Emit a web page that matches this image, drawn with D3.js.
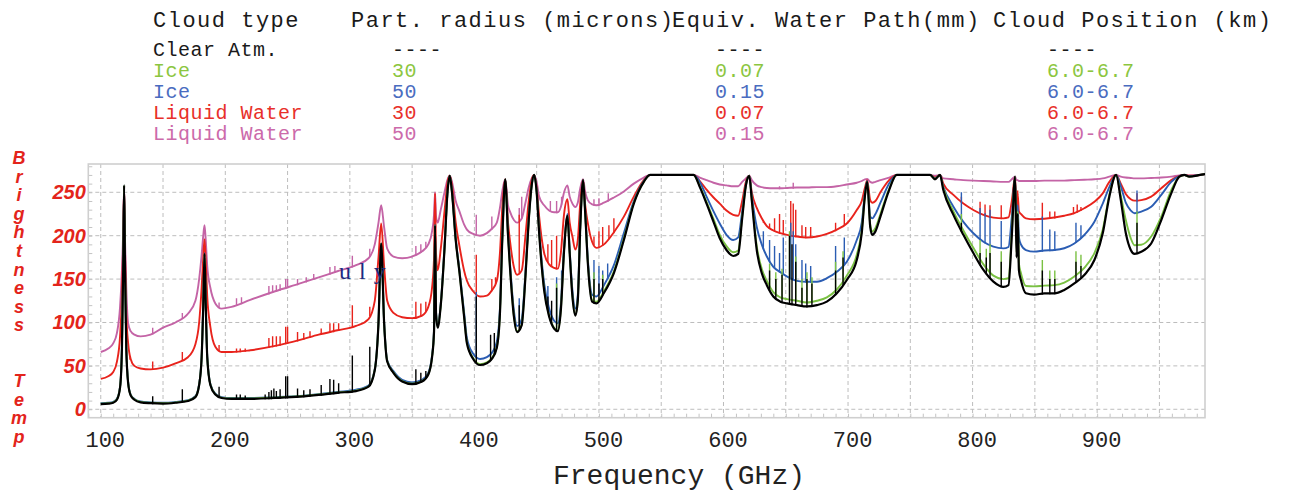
<!DOCTYPE html>
<html><head><meta charset="utf-8">
<script src="https://cdn.jsdelivr.net/npm/d3@7"></script>
<style>html,body{margin:0;background:#fff;}svg{display:block}</style>
</head><body>
<svg id="c" width="1292" height="493"></svg>
<script>
// ---------- DATA ----------
const freqGHz = [
  100,106,110,113,115.5,117,118,118.75,119.5,120.5,122,124,127,132,
  140,150,160,170,176,179,181,182.3,183.31,184.3,185.5,188,192,197,
  205,220,240,260,275,290,305,315,320,323,325.15,327.5,
  330,335,342,350,358,363,366,367.6,368.4,369.2,370.5,
  373,376,378.5,380.2,382,385,388,391.7,394,399,404.5,410,414,418,
  420.5,422.5,424.76,427,428.5,431.7,434.3,438,441,443.5,446,448,450,
  452,456,460,464,467,469.4,472,474.7,476.5,478.7,481,483,485,487.25,489,
  491,494.5,498,504,512,520,528,536,541,
  576,581,586.4,592,597,602.4,607.8,611.8,615,618,620.7,622.7,626.7,
  630.7,634.8,640,645.6,651,659,667,675,683,691,699,707,711,713.5,715.4,717.8,719.5,722,726,733,
  739,766,769.8,773.8,776.5,784.6,792.6,800.6,808.7,816.7,824.7,828.8,831.5,
  834.1,835.3,836.2,837.2,838.8,842.8,849.5,857.6,865.6,873.6,881.7,889.7,897.8,904.5,909.8,
  915.2,919,923,927,930,935.4,943.4,951.5,959.5,966,970,974,982.6,986.6
];
const clearAtm = [
  6,6.5,7.5,11,25,70,160,258,160,70,30,16,11,8,
  7,6.5,7.5,9.5,14,28,60,120,179,120,60,28,17,13,
  12,12,13,14.5,16.5,19,21,26,45,100,191,100,
  55,42,32,29,32,40,60,90,212,110,94,
  120,185,252,269,250,195,158,107,76,58,51,53,58,71,
  110,200,265,200,165,107,89,97,153,215,258,270,250,
  203,137,107,93,90,114,183,223,180,130,108,125,210,264,225,
  170,124,122,134,157,195,237,262,270,
  270,256,237,216,197,183.5,176.6,179,220,258,269,241,183.5,
  157,143,130,124,122,120,118.5,120,124,133.6,149,172,203,245,262,210,201,205,222,252.6,
  270,270,265,270,252.6,224,201,180,160.5,147,141,143,200,
  268,175,225,160,149,133.6,132,133.6,133.6,137.5,145,154.7,172,202.8,245,
  270,241,203,183.5,179,181.5,191,218,248.8,268,270,268,270,271
];
const ice30 = [
  6.5,7,8,11.5,25.5,70,160,258,160,70.5,30.5,16.5,11.5,8.5,
  7.5,7,8,10,14.5,28.5,60,120,179,120,60,28.5,17.5,13.5,
  12.5,12.5,13.5,15,17,19.5,21.5,26.5,45.5,100,191,100,
  55.5,42.5,32.5,29.5,32.5,40.5,60.5,90,212,110,94.5,
  120,185,252,269,250,195,158,108,77,59,52,54,59,72,
  111,200,265,200,166,108,90,98,154,215,258,270,250,
  204,138,108,94,91,115,183,223,180,131,109,126,210,264,225,
  171,126,124,136,159,197,238,262,270,
  270,257,239,219,201,188,181,183,222,258,269,242,188,
  162,148,135,129,127,125,123,125,129,138,154,178,206,245,262,213,205,209,225,254,
  270,270,265.5,270,255,228,206,186,167,154,150,151,205,
  268,180,228,168,157,142,141.6,142.5,143,146,153,163,180,207,247,
  270,246,218,197,189,189.5,199,222,252.6,268,270,268,270,271
];
const ice50 = [
  7,7.5,8.5,12,26,71,161,258,161,71,31,17,12,9,
  8,7.5,8.5,10.5,15,29,61,121,180,121,61,29,18,14,
  13,13,14,15.5,17.5,20,22.5,27.5,46,101,191,101,
  56.5,44,34,31,34,42,62,92,213,112,96,
  122,187,252,269,251,197,161,112,82,64,58,60,65,78,
  116,203,265,203,170,114,96,104,158,217,258,270,251,
  207,145,116,102,99,121,186,225,183,137,116,131,212,264,227,
  175,132,130,143,166,203,240,263,270,
  270,262,245,228,214,201,195,198,228,259,269,246,210,
  190,176,164,158,153,148,147,147,151,158.5,170,195,215,248,263,222,220,225,238,260,
  270,270,266,270,256.4,233.4,216,202.8,193,187.3,185.4,187,222,
  268,205,235,198,190,183.5,181.6,183,183.5,185.5,191,200.8,216,237,256,
  270,257,238,229,225.8,227.7,233.4,247,262,268.6,270,268.5,270,271
];
const water30 = [
  35,38,43,55,84,130,190,257,180,110,76,58,50,47,
  46,48,53,60,75,100,140,175,196,170,130,95,72,66,
  66,68,73,80,86,91,96,104,125,175,214,165,
  125,111,106,105,108,118,140,175,249,180,160,
  185,228,262,269,258,215,188,160,148,136,130,131,137,148,
  180,235,265,215,195,164,155,160,200,238,264,270,255,
  222,180,167,163,162,180,225,242,215,199,184,195,238,264,235,
  215,193,186,190,204,222,245,264,270,
  270,263,253,244,237,229,224,223,240,262,269,250,232,
  220,211,206,203,201,199,198,199,202,207,214,229.6,240,255,264,241,238,240,250,264,
  270,270,267,270,260,247,237,229.6,224,220.8,220,221,240,
  268,232,248,228,225,220,219,219.5,221,223,226,231.6,239,248.8,262,
  270,260,248,242,240.4,241,245,254.6,264,269,270,269,270,271
];
const water50 = [
  66,70,76,88,118,160,205,257,195,140,99,90,86,84,
  86,94,100,110,125,150,178,200,212,195,165,140,122,116,
  118,126,136,145,152,159,166,174,190,215,235,210,
  185,176,174,176,182,190,205,225,250,222,215,
  230,250,265,269,262,240,228,213,207,202,200,203,208,215,
  232,252,265,235,228,218,215,220,238,255,266,270,262,
  245,235,229,227,227,233,250,258,245,237,233,238,255,265,250,
  241,236,235,238,244,251,260,267,270,
  270,267,264,261,259,258,257,257,262,266,269,264,258,
  256,255,254.6,254.6,255,255.5,255.5,256,256,257,259,261,263,265,265.5,262,261,262,264,267,
  270,270,269,270,266,265,264,263.4,263,262.5,262,262,265,
  268,264,264,263,263,263,263,263.4,263.4,263.5,264,264.5,265,266,268,
  270,268,267,266.5,266,266,266.5,267,268,269.5,270,269.5,270,271
];
// narrow line spikes: [GHz, peak K]
const clearSpikes = [[141.7,15],[165.5,23],[195,26],[209,17],[212,17],[216,16],[232,17],[235,20],[237,22],[239,24],[241,21],[244,23],[248.5,38],[250,38],[258,24],[263,22],[268,23],[277,28],[284,35],[287,34],[291,30],[302,62],[316,72],[353,46],[357,42],[361,44],[401.5,130],[413,86],[416,88],[436,120],[459,130],[462,125],[466,140],[496,150],[500,145],[503,150],[637,160],[642,150],[647,155],[653,200],[655,190],[658,170],[663,140],[667,150],[671,145],[690,160],[696,175],[791,215],[806,180],[811,175],[814,180],[823,170],[856,160],[862,150],[866,150],[883,170],[887,165],[932,215]];
const ice30Spikes = [[466,145],[496,158],[503,155],[637,168],[642,158],[647,162],[653,205],[658,176],[663,150],[667,158],[671,152],[690,170],[696,182],[791,225],[806,195],[811,185],[814,190],[823,182],[856,172],[862,160],[866,160],[883,182],[887,178],[932,228]];
const ice50Spikes = [[401.5,135],[436,128],[459,142],[466,152],[470,160],[496,172],[500,165],[503,160],[507,168],[632,205],[637,195],[641,188],[645,180],[648,198],[654,215],[656,205],[658,190],[663,172],[666,168],[670,165],[690,188],[697,198],[791,250],[806,232],[810,226],[814,230],[823,217],[856,222],[862,207],[866,205],[883,215],[887,212],[932,252]];
const water30Spikes = [[123.5,57],[141.7,55],[165.5,66],[195,74],[209,70],[212,70],[216,70],[235,82],[238,84],[241,84],[244,84],[248.5,95],[250,95],[258,89],[263,88],[268,90],[277,93],[284,99],[287,99],[291,99],[302,120],[316,118],[353,124],[357,122],[361,124],[401.5,178],[414,150],[417,152],[436,224],[459,190],[462,195],[466,200],[496,199],[500,205],[503,210],[508,212],[512,220],[632,215],[637,214],[641,220],[645,225],[648,218],[654,240],[656,237],[658,230],[663,212],[666,210],[670,210],[690,215],[697,225],[791,245],[806,239],[810,236],[814,235],[823,235],[836.2,252],[856,238],[862,228],[866,228],[881,233],[884,236],[887,233],[932,249]];
const water50Spikes = [[141.7,94],[165.5,111],[195,123],[209,128],[213,129],[235,142],[238,143],[241,143],[244,144],[248.5,150],[250,150],[258,150],[265,152],[271,156],[284,164],[288,165],[302,177],[316,185],[353,188],[357,190],[361,193],[401.5,224],[414,222],[436,232],[438,245],[461,240],[466,240],[470,245],[496,242],[500,243],[507.5,249],[645,257],[656,261]];

const xTickLabels = [100,200,300,400,500,600,700,800,900];
const xGridValues = [100,150,200,250,300,350,400,450,500,550,600,650,700,750,800,850,900,950];
const yTickLabels = [0,50,100,150,200,250];
const yAxisTitle = "Brightness  Temp";
const xAxisTitle = "Frequency (GHz)";
const legendHeader = ["Cloud type","Part. radius (microns)","Equiv. Water Path(mm)","Cloud Position (km)"];
const legendRows = [
  ["Clear Atm.","----","----","----"],
  ["Ice","30","0.07","6.0-6.7"],
  ["Ice","50","0.15","6.0-6.7"],
  ["Liquid Water","30","0.07","6.0-6.7"],
  ["Liquid Water","50","0.15","6.0-6.7"]
];

// ---------- STYLE ----------
const lineColors = {clear:"#000000", ice30:"#7ac143", ice50:"#2b5db3", water30:"#e8231c", water50:"#c464a6"};
const textColors = ["#1a1a1a","#8cc63f","#4a6cc0","#e8302a","#cc6aaa"];
const red = "#e3241b";

const svg = d3.select("#c");
const L=88.3, R=1205, T=164, B=417.7;
const x = d3.scaleLinear().domain([90,986.6]).range([L,R]);
const y = d3.scaleLinear().domain([-9.7,282.6]).range([B,T]);

svg.append("defs").append("clipPath").attr("id","clip")
  .append("rect").attr("x",L).attr("y",T).attr("width",R-L).attr("height",B-T);

// grid
const grid = svg.append("g");
grid.selectAll("line.vx").data(xGridValues).join("line")
  .attr("x1",d=>x(d)).attr("x2",d=>x(d)).attr("y1",T).attr("y2",B)
  .attr("stroke","#bdbdbd").attr("stroke-width",1).attr("stroke-dasharray","4,3");
grid.selectAll("line.hy").data(yTickLabels).join("line")
  .attr("x1",L).attr("x2",R).attr("y1",d=>y(d)).attr("y2",d=>y(d))
  .attr("stroke","#bdbdbd").attr("stroke-width",1).attr("stroke-dasharray","4,3");

// minor ticks via axes
const minorX = d3.axisBottom(x).ticks(90).tickSize(-4).tickFormat("");
svg.append("g").attr("transform",`translate(0,${B})`).call(minorX)
  .call(g=>g.select(".domain").remove())
  .call(g=>g.selectAll("line").attr("stroke","#c4c4c4"));
const minorY = d3.axisLeft(y).ticks(29).tickSize(-4).tickFormat("");
svg.append("g").attr("transform",`translate(${L},0)`).call(minorY)
  .call(g=>g.select(".domain").remove())
  .call(g=>g.selectAll("line").attr("stroke","#c4c4c4"));

// frame
svg.append("rect").attr("x",L).attr("y",T).attr("width",R-L).attr("height",B-T)
  .attr("fill","none").attr("stroke","#cfcfcf").attr("stroke-width",1.6);

// series
const series = [
  {vals:water50, spikes:water50Spikes, color:lineColors.water50, w:1.9},
  {vals:water30, spikes:water30Spikes, color:lineColors.water30, w:1.9},
  {vals:ice50, spikes:ice50Spikes, color:lineColors.ice50, w:1.9},
  {vals:ice30, spikes:ice30Spikes, color:lineColors.ice30, w:1.9},
  {vals:clearAtm, spikes:clearSpikes, color:lineColors.clear, w:2.2}
];
const line = d3.line().x(d=>x(d[0])).y(d=>y(d[1])).curve(d3.curveMonotoneX);
const bis = d3.bisector(d=>d).left;
function baseAt(vals,f){
  const i = Math.max(1, Math.min(freqGHz.length-1, bis(freqGHz,f)));
  const f0=freqGHz[i-1], f1=freqGHz[i];
  const t=(f-f0)/(f1-f0);
  return vals[i-1]+(vals[i]-vals[i-1])*t;
}
const plot = svg.append("g").attr("clip-path","url(#clip)");
series.forEach(s=>{
  const pts = freqGHz.map((f,i)=>[f,s.vals[i]]);
  plot.append("path").datum(pts).attr("d",line)
    .attr("fill","none").attr("stroke",s.color).attr("stroke-width",s.w)
    .attr("stroke-linejoin","round");
  plot.selectAll(null).data(s.spikes).join("line")
    .attr("x1",d=>x(d[0])).attr("x2",d=>x(d[0]))
    .attr("y1",d=>y(baseAt(s.vals,d[0]))+1).attr("y2",d=>y(d[1]))
    .attr("stroke",s.color).attr("stroke-width",1.4);
});

// axes labels
const xAxis = d3.axisBottom(x).tickValues(xTickLabels).tickSize(0).tickPadding(13.7);
svg.append("g").attr("transform",`translate(0,${B})`).call(xAxis)
  .call(g=>g.select(".domain").remove())
  .call(g=>g.selectAll("text").attr("dx",4).attr("fill","#222")
     .style("font-family","'Liberation Mono', monospace").style("font-size","22px"));
const yAxis = d3.axisLeft(y).tickValues(yTickLabels).tickSize(0).tickPadding(2.5);
svg.append("g").attr("transform",`translate(${L},0)`).call(yAxis)
  .call(g=>g.select(".domain").remove())
  .call(g=>g.selectAll("text").attr("fill",red)
     .style("font-family","'Liberation Sans', Arial, sans-serif").style("font-size","20px")
     .style("font-weight","bold").style("font-style","italic"));

// x title
svg.append("text").attr("x",679).attr("y",484).attr("text-anchor","middle")
  .attr("fill","#222").style("font-family","'Liberation Mono', monospace").style("font-size","28px")
  .text(xAxisTitle);

// y title stacked letters
const yt = svg.append("text").attr("fill",red)
  .style("font-family","'Liberation Sans', Arial, sans-serif").style("font-size","18px")
  .style("font-weight","bold").style("font-style","italic").attr("text-anchor","middle");
yAxisTitle.split("").forEach((ch,i)=>{
  yt.append("tspan").attr("x",19).attr("y",164+i*18.6).text(ch===" "?"\u00a0":ch);
});

// legend
const colX = [153,351,672,993];
legendHeader.forEach((h,i)=>{
  svg.append("text").attr("x",colX[i]).attr("y",27).attr("fill","#1a1a1a")
    .style("font-family","'Liberation Mono', monospace").style("font-size","22px")
    .style("letter-spacing","1.5px").text(h);
});
const rowY = [56,76.5,97.5,118.5,140];
const cellX = [153,392,715,1047];
legendRows.forEach((r,ri)=>{
  r.forEach((t,ci)=>{
    svg.append("text").attr("x",cellX[ci]).attr("y",rowY[ri]).attr("fill",textColors[ri])
      .style("font-family","'Liberation Mono', monospace").style("font-size","20px")
      .style("letter-spacing","0.5px").text(t);
  });
});

// scan remnant text seen on the reference
svg.append("text").attr("x",339).attr("y",279).attr("fill","#1c2a80")
  .style("font-family","'Liberation Serif', serif").style("font-size","24px")
  .style("letter-spacing","8px").text("uly");
</script>
</body></html>
